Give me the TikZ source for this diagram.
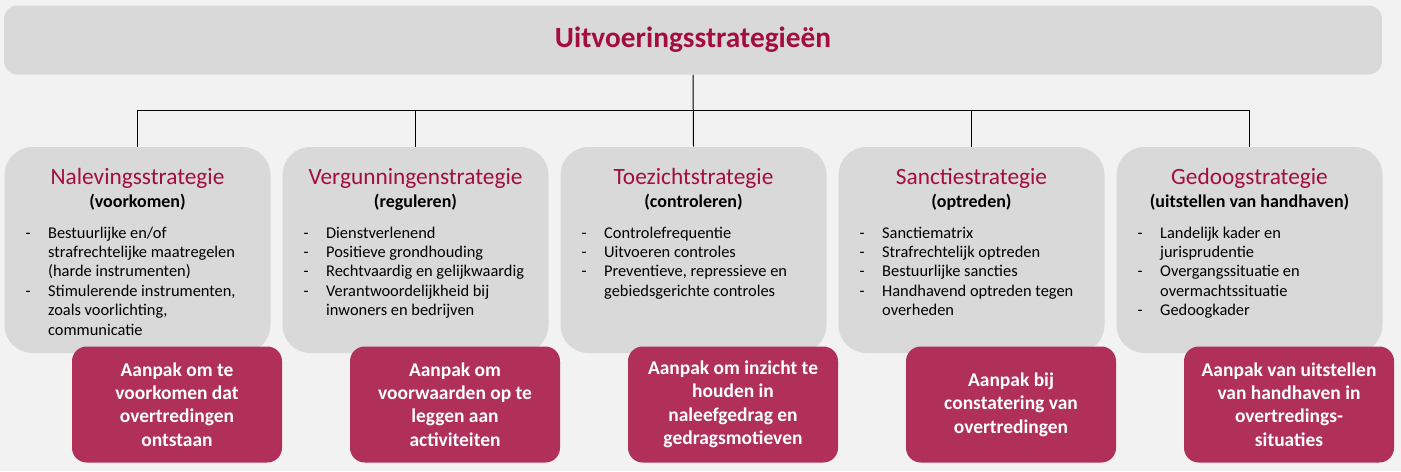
\documentclass[tikz,border=0pt]{standalone}
\usepackage{fontspec}
\setmainfont{Carlito}
\usetikzlibrary{positioning}

\definecolor{wijnrood}{HTML}{A30D3F}
\definecolor{aanpakrood}{HTML}{B0305A}
\definecolor{vlakgrijs}{HTML}{D9D9D9}
\definecolor{achtergrond}{HTML}{F2F2F2}

\newcommand{\lijst}[1]{\fontsize{12.3}{14.6}\selectfont\begin{tabular}[t]{@{}p{17pt}@{}l@{}}#1\end{tabular}}

\tikzset{
	strategie/.style={fill=vlakgrijs, rounded corners=21pt, minimum width=199.5pt, minimum height=154.5pt, inner sep=0pt},
	aanpak/.style={fill=aanpakrood, rounded corners=11pt, minimum width=157.5pt, minimum height=87pt, inner sep=0pt,
		text=white, align=center, font=\fontsize{14.6}{17.6}\selectfont\bfseries},
	kop/.style={anchor=base, inner sep=0pt, text=wijnrood, font=\fontsize{17.5}{20}\selectfont},
	tussenkop/.style={anchor=base, inner sep=0pt, font=\fontsize{13.5}{15}\selectfont\bfseries},
	punten/.style={anchor=base west, inner sep=0pt},
}

\begin{document}
\begin{tikzpicture}[x=0.75pt,y=-0.75pt,line width=0.75pt,node distance=208.5pt]

	\fill[achtergrond] (0,0) rectangle (1401,471);
	\useasboundingbox (0,0) rectangle (1401,471);

	\node(t_0) [fill=vlakgrijs, rounded corners=10pt, minimum width=1033.5pt, minimum height=51.75pt,
		text=wijnrood, font=\fontsize{22}{26}\selectfont\bfseries] at (693,40) {Uitvoeringsstrategieën};

	\node(s_1) [strategie]               at (137.5,250) {};
	\node(s_2) [strategie, right of = s_1] {};
	\node(s_3) [strategie, right of = s_2] {};
	\node(s_4) [strategie, right of = s_3] {};
	\node(s_5) [strategie, right of = s_4] {};

	\coordinate (splits) at (693,110);
	\draw (t_0.south) -- (s_3.north);
	\draw (s_1.north |- splits) -- (s_5.north |- splits);
	\draw (s_1.north |- splits) -- (s_1.north);
	\draw (s_2.north |- splits) -- (s_2.north);
	\draw (s_4.north |- splits) -- (s_4.north);
	\draw (s_5.north |- splits) -- (s_5.north);

	% koppen en subkoppen
	\node(k_1) [kop] at ([shift={(0,-66)}]s_1) {Nalevingsstrategie};
	\node(k_2) [kop] at ([shift={(0,-66)}]s_2) {Vergunningenstrategie};
	\node(k_3) [kop] at ([shift={(0,-66)}]s_3) {Toezichtstrategie};
	\node(k_4) [kop] at ([shift={(0,-66)}]s_4) {Sanctiestrategie};
	\node(k_5) [kop] at ([shift={(0,-66)}]s_5) {Gedoogstrategie};

	\node(o_1) [tussenkop] at ([shift={(0,-43)}]s_1) {(voorkomen)};
	\node(o_2) [tussenkop] at ([shift={(0,-43)}]s_2) {(reguleren)};
	\node(o_3) [tussenkop] at ([shift={(0,-43)}]s_3) {(controleren)};
	\node(o_4) [tussenkop] at ([shift={(0,-43)}]s_4) {(optreden)};
	\node(o_5) [tussenkop] at ([shift={(0,-43)}]s_5) {(uitstellen van handhaven)};

	% opsommingen
	\node(l_1) [punten] at ([shift={(21,-12)}]s_1.west) {\lijst{
		- & Bestuurlijke en/of\\
		  & strafrechtelijke maatregelen\\
		  & (harde instrumenten)\\
		- & Stimulerende instrumenten,\\
		  & zoals voorlichting,\\
		  & communicatie}};
	\node(l_2) [punten] at ([shift={(21,-12)}]s_2.west) {\lijst{
		- & Dienstverlenend\\
		- & Positieve grondhouding\\
		- & Rechtvaardig en gelijkwaardig\\
		- & Verantwoordelijkheid bij\\
		  & inwoners en bedrijven}};
	\node(l_3) [punten] at ([shift={(21,-12)}]s_3.west) {\lijst{
		- & Controlefrequentie\\
		- & Uitvoeren controles\\
		- & Preventieve, repressieve en\\
		  & gebiedsgerichte controles}};
	\node(l_4) [punten] at ([shift={(21,-12)}]s_4.west) {\lijst{
		- & Sanctiematrix\\
		- & Strafrechtelijk optreden\\
		- & Bestuurlijke sancties\\
		- & Handhavend optreden tegen\\
		  & overheden}};
	\node(l_5) [punten] at ([shift={(21,-12)}]s_5.west) {\lijst{
		- & Landelijk kader en\\
		  & jurisprudentie\\
		- & Overgangssituatie en\\
		  & overmachtssituatie\\
		- & Gedoogkader}};

	% aanpakken
	\node(a_1) [aanpak] at ([shift={(39.5,154.5)}]s_1) {Aanpak om te\\voorkomen dat\\overtredingen\\ontstaan};
	\node(a_2) [aanpak] at ([shift={(39.5,154.5)}]s_2) {Aanpak om\\voorwaarden op te\\leggen aan\\activiteiten};
	\node(a_3) [aanpak] at ([shift={(39.5,154.5)}]s_3) {Aanpak om inzicht te\\houden in\\naleefgedrag en\\gedragsmotieven};
	\node(a_4) [aanpak] at ([shift={(39.5,154.5)}]s_4) {Aanpak bij\\constatering van\\overtredingen};
	\node(a_5) [aanpak] at ([shift={(39.5,154.5)}]s_5) {Aanpak van uitstellen\\van handhaven in\\overtredings-\\situaties};
\end{tikzpicture}
\end{document}
